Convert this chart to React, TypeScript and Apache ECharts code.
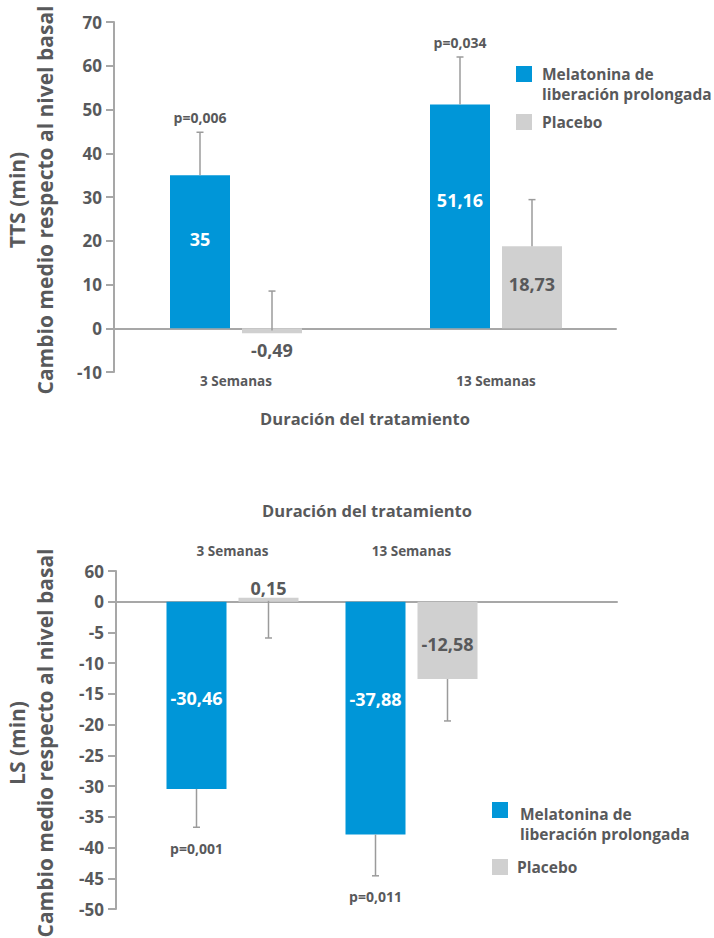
import React, { useEffect, useRef } from "react";
import * as echarts from "echarts";

// ---------- data ----------
const weeks = ["3 Semanas", "13 Semanas"];
const seriesNames = ["Melatonina de\nliberación prolongada", "Placebo"];

// TTS chart (top)
const ttsMelatonin = [35, 51.16];
const ttsPlacebo = [-0.49, 18.73];
const ttsMelatoninErrEnd = [44.8, 62.0];
const ttsPlaceboErrEnd = [8.5, 29.4];
const ttsPValues = ["p=0,006", "p=0,034"];
const ttsMin = -10;
const ttsMax = 70;
const ttsInterval = 10;

// LS chart (bottom)
const lsMelatonin = [-30.46, -37.88];
const lsPlacebo = [0.15, -12.58];
const lsMelatoninErrEnd = [-36.7, -44.6];
const lsPlaceboErrEnd = [-5.9, -19.4];
const lsPValues = ["p=0,001", "p=0,011"];
const lsMin = -50;
const lsMax = 5;
const lsInterval = 5;
const lsTopTickLabel = "60"; // printed label at the top tick in the original

const ttsAxisName = "TTS (min)\nCambio medio respecto al nivel basal";
const lsAxisName = "LS (min)\nCambio medio respecto al nivel basal";
const xTitle = "Duración del tratamiento";

// ---------- styles ----------
const FONT = '"Open Sans", "DejaVu Sans", sans-serif';
const TEXT = "#58595b";
const AXIS = "#a7a7a7";
const BLUE = "#0096d8";
const GRAY = "#d0d0d0";
const BAR_W = 60;
const BAR_GAP = "20%";
const HALF_OFFSET = 36; // bar centre offset from category centre

const fmt = (v: number) => String(v).replace(".", ",");

function errorSeries(
  xIdx: number,
  yIdx: number,
  values: number[],
  ends: number[],
  offset: number,
  pLabels?: string[],
  pDy?: number
) {
  return {
    type: "custom",
    xAxisIndex: xIdx,
    yAxisIndex: yIdx,
    z: 5,
    clip: false,
    encode: { x: 0, y: [1, 2] },
    data: values.map((v, i) => [i, v, ends[i]]),
    renderItem: (params: any, api: any) => {
      const i = api.value(0);
      const base = api.coord([i, api.value(1)]);
      const end = api.coord([i, api.value(2)]);
      const cx = base[0] + offset;
      const st = { stroke: "#9b9b9b", lineWidth: 1.5 };
      const children: any[] = [
        { type: "line", shape: { x1: cx, y1: base[1], x2: cx, y2: end[1] }, style: st },
        { type: "line", shape: { x1: cx - 3.5, y1: end[1], x2: cx + 3.5, y2: end[1] }, style: st },
      ];
      if (pLabels) {
        children.push({
          type: "text",
          x: cx,
          y: end[1] + (pDy || 0),
          style: {
            text: pLabels[params.dataIndex],
            align: "center",
            verticalAlign: "middle",
            fontSize: 14,
            fontWeight: "bold",
            fontFamily: FONT,
            fill: TEXT,
          },
        });
      }
      return { type: "group", children };
    },
  };
}

const valueLabel = (color: string, position: string, extra: any = {}) => ({
  show: true,
  position,
  color,
  fontSize: 18,
  fontWeight: "bold",
  fontFamily: FONT,
  formatter: (p: any) => fmt(p.value),
  ...extra,
});

function barData(values: number[], dys: number[]) {
  return values.map((v, i) => ({ value: v, label: { offset: [0, dys[i]] } }));
}

export default function App() {
  const ref = useRef<HTMLDivElement>(null);
  useEffect(() => {
    if (!ref.current) return;
    const chart = echarts.init(ref.current, undefined, { renderer: "svg" });

    const axisLineStyle = { color: AXIS, width: 2 };
    const tickLabel = { fontSize: 17, fontWeight: "bold", fontFamily: FONT, color: TEXT, margin: 12 };
    const yNameStyle = { fontSize: 21, fontWeight: "bold", fontFamily: FONT, fill: TEXT, lineHeight: 28 };
    const catLabel = { fontSize: 13.5, fontWeight: "bold", fontFamily: FONT, color: TEXT };
    const legendText = { fontSize: 15.5, fontWeight: "bold", fontFamily: FONT, fill: TEXT };
    const titleText = { fontSize: 16.5, fontWeight: "bold", fontFamily: FONT, fill: TEXT };

    const option: any = {
      animation: false,
      grid: [
        { left: 114, top: 22, width: 502, height: 350 },
        { left: 106, top: 22, width: 520, height: 350 },
        { left: 116, top: 571, width: 501, height: 338 },
        { left: 143, top: 571, width: 358, height: 338 },
      ],
      xAxis: [
        {
          gridIndex: 0, type: "category", data: weeks,
          axisLine: { show: true, onZero: true, lineStyle: axisLineStyle },
          axisTick: { show: false }, axisLabel: { show: false },
        },
        {
          gridIndex: 1, type: "category", data: weeks, position: "bottom",
          axisLine: { show: false, onZero: false }, axisTick: { show: false },
          axisLabel: { ...catLabel, margin: 2 },
        },
        {
          gridIndex: 2, type: "category", data: weeks,
          axisLine: { show: true, onZero: true, lineStyle: axisLineStyle },
          axisTick: { show: false }, axisLabel: { show: false },
        },
        {
          gridIndex: 3, type: "category", data: weeks, position: "top",
          axisLine: { show: false, onZero: false }, axisTick: { show: false },
          axisLabel: { ...catLabel, margin: 13 },
        },
      ],
      yAxis: [
        {
          gridIndex: 0, type: "value", min: ttsMin, max: ttsMax, interval: ttsInterval,
          axisLine: { show: true, lineStyle: axisLineStyle },
          axisTick: { show: true, length: 8, lineStyle: axisLineStyle },
          splitLine: { show: false },
          axisLabel: tickLabel,
        },
        { gridIndex: 1, type: "value", min: ttsMin, max: ttsMax, interval: ttsInterval, show: false },
        {
          gridIndex: 2, type: "value", min: lsMin, max: lsMax, interval: lsInterval,
          axisLine: { show: true, lineStyle: axisLineStyle },
          axisTick: { show: true, length: 8, lineStyle: axisLineStyle },
          splitLine: { show: false },
          axisLabel: { ...tickLabel, formatter: (v: number) => (v === lsMax ? lsTopTickLabel : String(v)) },
        },
        { gridIndex: 3, type: "value", min: lsMin, max: lsMax, interval: lsInterval, show: false },
      ],
      series: [
        {
          type: "bar", name: seriesNames[0], xAxisIndex: 1, yAxisIndex: 1,
          barWidth: BAR_W, barGap: BAR_GAP, itemStyle: { color: BLUE },
          label: valueLabel("#fff", "inside"),
          data: barData(ttsMelatonin, [-13, -16]),
        },
        {
          type: "bar", name: seriesNames[1], xAxisIndex: 1, yAxisIndex: 1,
          barWidth: BAR_W, barGap: BAR_GAP, barMinHeight: 5, itemStyle: { color: GRAY }, z: 3,
          label: valueLabel(TEXT, "inside"),
          data: [
            { value: ttsPlacebo[0], label: { position: "bottom", distance: 8 } },
            { value: ttsPlacebo[1], label: { offset: [0, -3] } },
          ],
        },
        errorSeries(1, 1, ttsMelatonin, ttsMelatoninErrEnd, -HALF_OFFSET, ttsPValues, -15),
        errorSeries(1, 1, ttsPlacebo, ttsPlaceboErrEnd, HALF_OFFSET),
        {
          type: "bar", name: seriesNames[0], xAxisIndex: 3, yAxisIndex: 3,
          barWidth: BAR_W, barGap: BAR_GAP, itemStyle: { color: BLUE },
          label: valueLabel("#fff", "inside"),
          data: barData(lsMelatonin, [3, -19]),
        },
        {
          type: "bar", name: seriesNames[1], xAxisIndex: 3, yAxisIndex: 3,
          barWidth: BAR_W, barGap: BAR_GAP, barMinHeight: 4, itemStyle: { color: GRAY }, z: 3,
          label: valueLabel(TEXT, "inside"),
          data: [
            { value: lsPlacebo[0], label: { position: "top", distance: 1 } },
            { value: lsPlacebo[1], label: { offset: [0, 4] } },
          ],
        },
        errorSeries(3, 3, lsMelatonin, lsMelatoninErrEnd, -HALF_OFFSET, lsPValues, 21),
        errorSeries(3, 3, lsPlacebo, lsPlaceboErrEnd, HALF_OFFSET),
      ],
      graphic: [
        // y-axis titles
        {
          type: "text", x: 31, y: 200, rotation: Math.PI / 2,
          style: { text: ttsAxisName, align: "center", verticalAlign: "middle", ...yNameStyle },
        },
        {
          type: "text", x: 31, y: 743, rotation: Math.PI / 2,
          style: { text: lsAxisName, align: "center", verticalAlign: "middle", ...yNameStyle },
        },
        {
          type: "text", x: 365, y: 418,
          style: { text: xTitle, align: "center", verticalAlign: "middle", ...titleText },
        },
        {
          type: "text", x: 367, y: 510,
          style: { text: xTitle, align: "center", verticalAlign: "middle", ...titleText },
        },
        // legend top
        { type: "rect", shape: { x: 516, y: 66, width: 16, height: 16 }, style: { fill: BLUE } },
        {
          type: "text", x: 542, y: 64,
          style: { text: seriesNames[0], verticalAlign: "top", lineHeight: 20, ...legendText },
        },
        { type: "rect", shape: { x: 516, y: 114, width: 16, height: 16 }, style: { fill: GRAY } },
        {
          type: "text", x: 542, y: 122,
          style: { text: seriesNames[1], verticalAlign: "middle", ...legendText },
        },
        // legend bottom
        { type: "rect", shape: { x: 492, y: 802, width: 16, height: 16 }, style: { fill: BLUE } },
        {
          type: "text", x: 520, y: 804,
          style: { text: seriesNames[0], verticalAlign: "top", lineHeight: 20, ...legendText },
        },
        { type: "rect", shape: { x: 492, y: 859, width: 16, height: 16 }, style: { fill: GRAY } },
        {
          type: "text", x: 517, y: 867,
          style: { text: seriesNames[1], verticalAlign: "middle", ...legendText },
        },
      ],
    };
    chart.setOption(option);
    return () => chart.dispose();
  }, []);

  return (
    <div
      ref={ref}
      style={{ position: "absolute", left: 0, top: 0, width: 714, height: 938, background: "#fff" }}
    />
  );
}
